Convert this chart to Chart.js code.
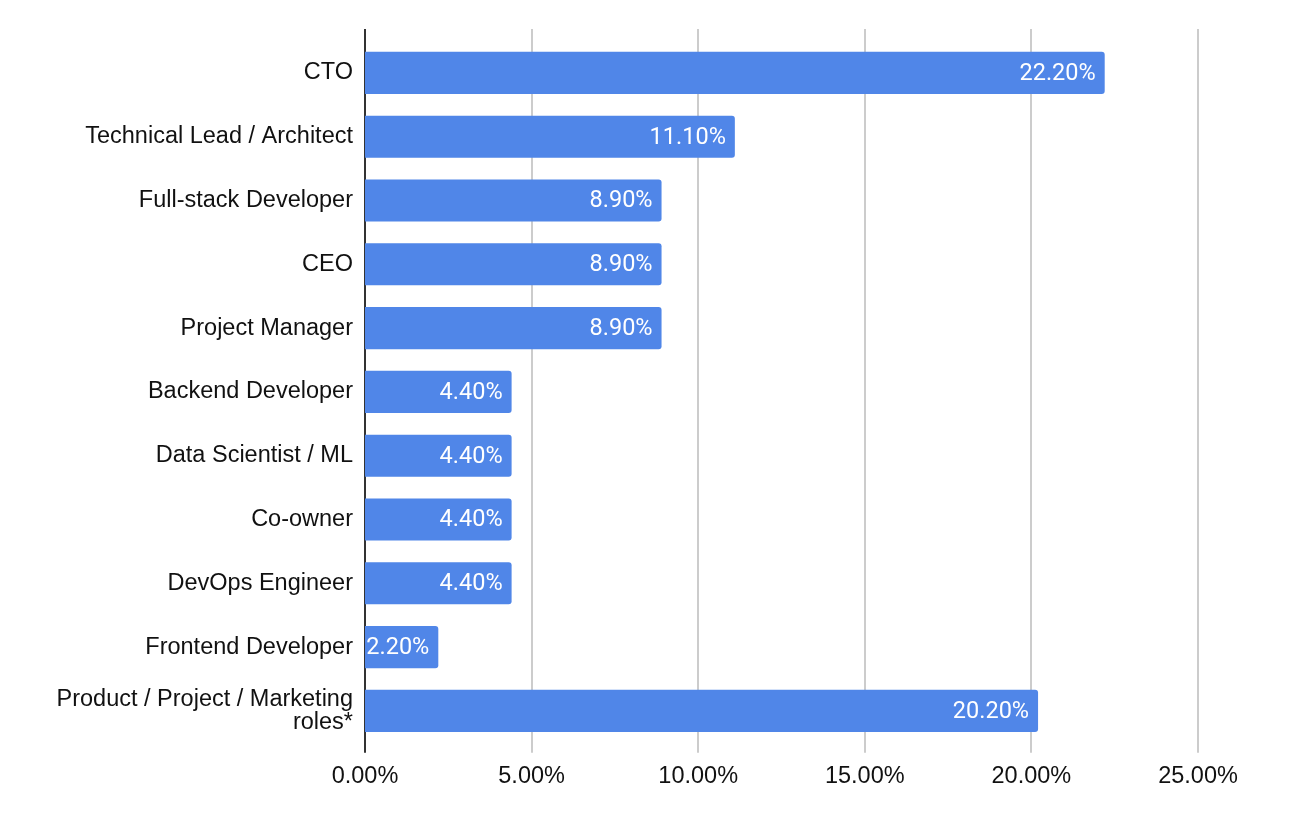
<!DOCTYPE html>
<html>
<head>
<meta charset="utf-8">
<script src="https://cdn.jsdelivr.net/npm/chart.js@4/dist/chart.umd.min.js"></script>
<style>
  html, body { margin: 0; padding: 0; background: #fff; }
  #wrap { width: 1314px; height: 814px; position: relative; }
</style>
</head>
<body>
<div id="wrap"><canvas id="rolesChart"></canvas></div>
<script>
// role categories (top to bottom) and their share in percent
var roleLabels = [
    'CTO',
    'Technical Lead / Architect',
    'Full-stack Developer',
    'CEO',
    'Project Manager',
    'Backend Developer',
    'Data Scientist / ML',
    'Co-owner',
    'DevOps Engineer',
    'Frontend Developer',
    ['Product / Project / Marketing', 'roles*']
];
var roleShares = [22.2, 11.1, 8.9, 8.9, 8.9, 4.4, 4.4, 4.4, 4.4, 2.2, 20.2];
var xTicks = [0, 5, 10, 15, 20, 25];

var barColor = '#5086e8';
var axisFont = '"Liberation Sans", Arial, sans-serif';

// draws the vertical grid + left axis line a bit past the bar area, like the sheets chart
var gridPlugin = {
    id: 'gridLines',
    beforeDatasetsDraw: function (chart) {
        var ctx = chart.ctx, area = chart.chartArea, xs = chart.scales.x;
        var top = area.top - 12, bottom = area.bottom + 10;
        ctx.save();
        xTicks.forEach(function (v, i) {
            var px = Math.round(xs.getPixelForValue(v));
            ctx.beginPath();
            ctx.lineWidth = 2;
            ctx.strokeStyle = i === 0 ? '#333333' : '#cccccc';
            ctx.moveTo(px, top);
            ctx.lineTo(px, bottom);
            ctx.stroke();
        });
        ctx.restore();
    }
};

// white value labels inside the end of each bar
var valuePlugin = {
    id: 'valueLabels',
    afterDatasetsDraw: function (chart) {
        var ctx = chart.ctx;
        var meta = chart.getDatasetMeta(0);
        ctx.save();
        ctx.font = '23.5px Roboto, "Liberation Sans", Arial, sans-serif';
        ctx.fillStyle = '#ffffff';
        ctx.textAlign = 'right';
        ctx.textBaseline = 'middle';
        meta.data.forEach(function (bar, i) {
            ctx.fillText(roleShares[i].toFixed(2) + '%', bar.x - 9, bar.y + 1);
        });
        ctx.restore();
    }
};

var ctx = document.getElementById('rolesChart').getContext('2d');
var rolesChart = new Chart(ctx, {
    type: 'bar',
    data: {
        labels: roleLabels,
        datasets: [{
            data: roleShares,
            backgroundColor: barColor,
            borderRadius: 3,
            borderSkipped: 'start',
            categoryPercentage: 1.0,
            barPercentage: 0.66
        }]
    },
    options: {
        indexAxis: 'y',
        responsive: true,
        maintainAspectRatio: false,
        animation: false,
        layout: {
            padding: { top: 41, right: 116, bottom: 11, left: 0 }
        },
        plugins: {
            legend: { display: false },
            tooltip: { enabled: false }
        },
        scales: {
            x: {
                min: 0,
                max: 25,
                afterBuildTicks: function (scale) {
                    scale.ticks = xTicks.map(function (v) { return { value: v }; });
                },
                grid: { display: false },
                border: { display: false },
                ticks: {
                    padding: 12,
                    color: '#111111',
                    font: { family: axisFont, size: 23.5 },
                    callback: function (v) { return v.toFixed(2) + '%'; }
                }
            },
            y: {
                grid: { display: false },
                border: { display: false },
                afterFit: function (scale) { scale.width = 365; },
                ticks: {
                    padding: 4,
                    color: '#111111',
                    font: { family: axisFont, size: 23.5, lineHeight: 0.98 }
                }
            }
        }
    },
    plugins: [gridPlugin, valuePlugin]
});
</script>
</body>
</html>
